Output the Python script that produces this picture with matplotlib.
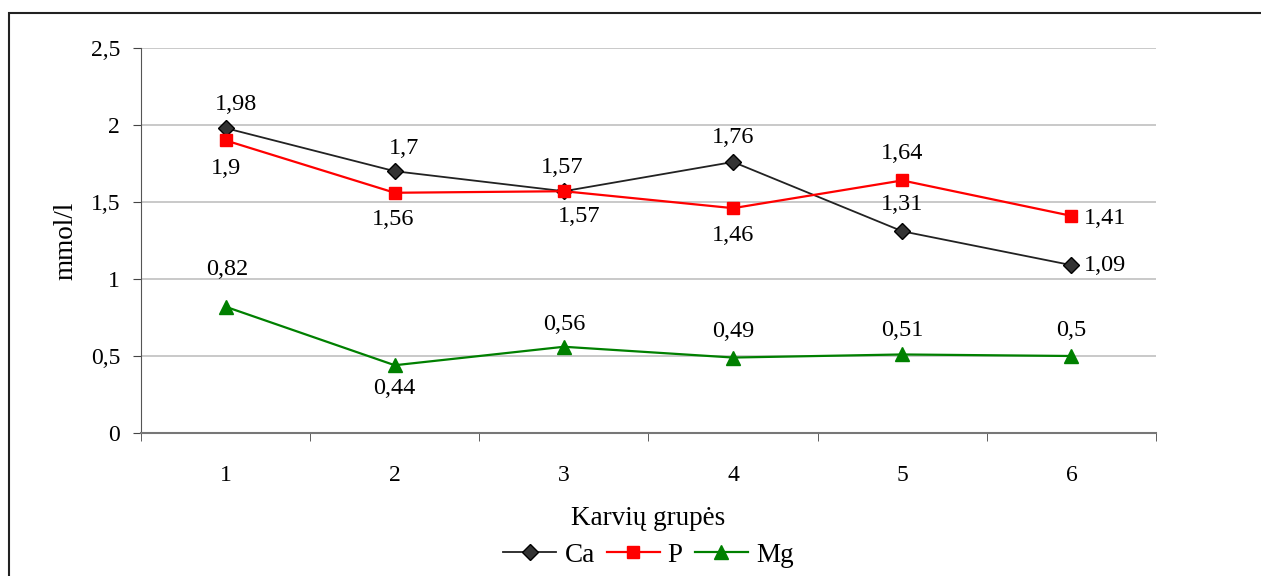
import matplotlib
matplotlib.use("Agg")
import matplotlib.pyplot as plt
from matplotlib.patches import Rectangle

plt.rcParams['font.family'] = ['Liberation Serif', 'DejaVu Serif']

groups = [1, 2, 3, 4, 5, 6]
ca = [1.98, 1.70, 1.57, 1.76, 1.31, 1.09]
p = [1.90, 1.56, 1.57, 1.46, 1.64, 1.41]
mg = [0.82, 0.44, 0.56, 0.49, 0.51, 0.50]

# label offsets in pixels (dx, dy)
ca_off = [(10, 24), (9, 23), (-2, 24), (0, 24), (0, 27), (34, 0)]
p_off = [(0, -28), (-2, -27), (15, -25), (0, -27), (0, 27), (34, -3)]
mg_off = [(2, 37), (0, -23), (0, 22), (0, 26), (0, 24), (0, 25)]

fig = plt.figure(figsize=(12.61, 5.76), dpi=100)
fig.patches.append(Rectangle((9 / 1261, -0.1), 1.2, 1.1 - 13 / 576,
                             transform=fig.transFigure, fill=False,
                             edgecolor='#222222', linewidth=1.5))
ax = fig.add_axes([141 / 1261, 1 - 433 / 576, (1156 - 141) / 1261, (433 - 48) / 576])

ax.plot(groups, ca, color='#222222', lw=1.3, marker='D', ms=8,
        mfc='#333333', mec='black', label='Ca', zorder=3)
ax.plot(groups, p, color='red', lw=1.6, marker='s', ms=8.6,
        mfc='red', mec='red', label='P', zorder=3)
ax.plot(groups, mg, color='green', lw=1.6, marker='^', ms=10,
        mfc='green', mec='green', label='Mg', zorder=3)

def fmt(v):
    return ('%g' % v).replace('.', ',')

for vals, offs in [(ca, ca_off), (p, p_off), (mg, mg_off)]:
    for x, v, (dx, dy) in zip(groups, vals, offs):
        ax.annotate(fmt(v), (x, v), xytext=(dx, dy), textcoords='offset pixels',
                    ha='center', va='center', fontsize=17.5)

ax.set_xlim(0.5, 6.5)
ax.set_ylim(0, 2.5)
ax.set_yticks([0, 0.5, 1, 1.5, 2, 2.5])
ax.set_yticklabels([fmt(t) for t in [0, 0.5, 1, 1.5, 2, 2.5]], fontsize=17)
ax.set_xticks(groups)
ax.set_xticklabels([str(g) for g in groups], fontsize=17)
ax.set_xticks([0.5 + i for i in range(7)], minor=True)
ax.tick_params(axis='x', which='major', length=0, pad=23)
ax.tick_params(axis='x', which='minor', length=6, color='#444444', direction='out')
ax.tick_params(axis='y', length=6, color='#444444', direction='out', pad=9)

ax.grid(axis='y', color='#c0c0c0', lw=1.2)
ax.set_axisbelow(True)
for s in ['top', 'right']:
    ax.spines[s].set_visible(False)
ax.spines['left'].set_color('#555555')
ax.spines['bottom'].set_color('#777777')
ax.spines['bottom'].set_linewidth(1.5)

ax.set_ylabel('mmol/l', fontsize=19.5)
ax.yaxis.set_label_coords(-0.062, 0.5)
ax.set_xlabel('Karvių grupės', fontsize=19.5)
ax.xaxis.set_label_coords(0.5, -0.19)

ax.legend(loc='center', bbox_to_anchor=(0.5, -0.317), ncol=3, frameon=False,
          fontsize=19.5, handlelength=1.95, handletextpad=0.3, columnspacing=0.45)

fig.savefig('out.png', dpi=100)
